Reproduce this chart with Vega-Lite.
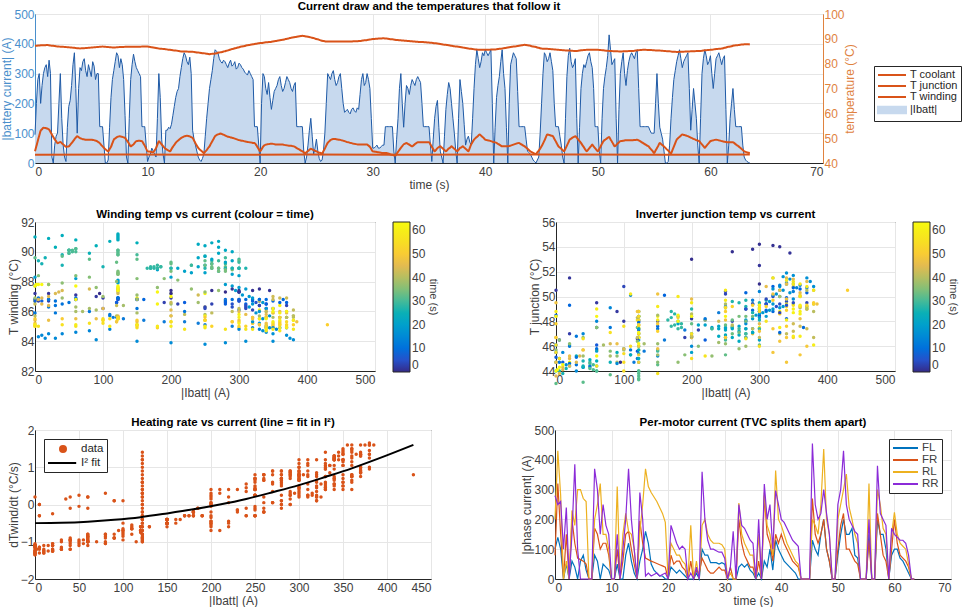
{
"$schema":"https://vega.github.io/schema/vega-lite/v6.json",
"padding":{"left":0,"top":0,"right":0,"bottom":0},
"background":"white",
"config":{
 "font":"Liberation Sans",
 "view":{"stroke":"#262626","strokeWidth":1},
 "axis":{"labelFontSize":12,"labelColor":"#404040","titleFontSize":12,"titleFontWeight":"normal","titleColor":"#404040","gridColor":"#e6e6e6","domainColor":"#262626","ticks":false,"labelPadding":1,"titlePadding":0},
 "axisX":{"labelPadding":3,"titlePadding":2},
 "title":{"fontSize":11.5,"fontWeight":"bold","color":"#000000","offset":-4},
 "legend":{"labelFont":"Liberation Sans","titleFont":"Liberation Sans"}
},
"datasets":{
"main":[
{"t":0,"i":95,"w":87.2,"j":44.7,"d":-0.7},{"t":0.25,"i":280,"w":87.3,"j":49,"d":0.7},{"t":0.5,"i":200,"w":87.4,"j":53,"d":-0.55},{"t":0.75,"i":300,"w":87.4,"j":54.2,"d":0.75},
{"t":1,"i":330,"w":87.5,"j":54,"d":0.4},{"t":1.25,"i":345,"w":87.4,"j":53.5,"d":1.4},{"t":1.5,"i":20,"w":87.2,"j":51.5,"d":-1.2},{"t":1.75,"i":60,"w":87.1,"j":49.5,"d":-0.85},
{"t":2,"i":100,"w":86.9,"j":48,"d":-0.95},{"t":2.25,"i":300,"w":86.8,"j":48.5,"d":0.3},{"t":2.5,"i":60,"w":86.8,"j":47.5,"d":-0.85},{"t":2.75,"i":5,"w":86.7,"j":46.5,"d":-0.3},
{"t":3,"i":190,"w":86.6,"j":46.7,"d":-0.3},{"t":3.25,"i":260,"w":86.5,"j":48,"d":0.8},{"t":3.5,"i":370,"w":86.4,"j":49.5,"d":0.9},{"t":3.75,"i":100,"w":86.2,"j":50.8,"d":-0.75},
{"t":4,"i":320,"w":86.1,"j":50,"d":0.75},{"t":4.25,"i":340,"w":86.2,"j":49.6,"d":1.25},{"t":4.5,"i":310,"w":86.3,"j":49.4,"d":0.25},{"t":4.75,"i":330,"w":86.4,"j":49.4,"d":1},
{"t":5,"i":290,"w":86.5,"j":49.4,"d":0.8},{"t":5.25,"i":325,"w":86.6,"j":49.2,"d":0.55},{"t":5.5,"i":300,"w":86.7,"j":48.8,"d":0.75},{"t":5.75,"i":122,"w":86.8,"j":48,"d":-0.6},
{"t":6,"i":122,"w":86.9,"j":46.7,"d":-0.9},{"t":6.25,"i":0,"w":86.8,"j":45.5,"d":-1.05},{"t":6.5,"i":10,"w":86.7,"j":44.7,"d":-1.3},{"t":6.75,"i":220,"w":86.6,"j":46.5,"d":-0.6},
{"t":7,"i":310,"w":86.5,"j":49.4,"d":0.8},{"t":7.25,"i":370,"w":86.6,"j":50.3,"d":1},{"t":7.5,"i":320,"w":86.7,"j":50.8,"d":1.2},{"t":7.75,"i":330,"w":86.7,"j":50.5,"d":0.4},
{"t":8,"i":160,"w":86.8,"j":50.1,"d":-0.5},{"t":8.25,"i":0,"w":86.8,"j":48.5,"d":-1.1},{"t":8.5,"i":280,"w":86.8,"j":46.7,"d":0.25},{"t":8.75,"i":365,"w":86.8,"j":47.5,"d":1.35},
{"t":9,"i":320,"w":86.8,"j":48.8,"d":0.35},{"t":9.25,"i":300,"w":86.8,"j":49,"d":0.7},{"t":9.5,"i":122,"w":86.9,"j":48.8,"d":-0.3},{"t":9.75,"i":122,"w":86.9,"j":47,"d":-0.8},
{"t":10,"i":5,"w":86.9,"j":44.7,"d":0},{"t":10.25,"i":30,"w":86.7,"j":44.5,"d":-1.2},{"t":10.5,"i":40,"w":86.5,"j":44.3,"d":-0.95},{"t":10.75,"i":20,"w":86.3,"j":46,"d":-1.2},
{"t":11,"i":300,"w":86.1,"j":48.8,"d":0.8},{"t":11.25,"i":80,"w":86,"j":47.5,"d":-0.9},{"t":11.5,"i":0,"w":85.9,"j":46.1,"d":-1.35},{"t":11.75,"i":110,"w":85.7,"j":45.3,"d":-0.6},
{"t":12,"i":115,"w":85.6,"j":44.7,"d":-1},{"t":12.25,"i":160,"w":85.4,"j":46.5,"d":-0.4},{"t":12.5,"i":220,"w":85.3,"j":48.1,"d":-0.45},{"t":12.75,"i":250,"w":85.1,"j":49.2,"d":0.25},
{"t":13,"i":320,"w":84.9,"j":50.1,"d":0.1},{"t":13.25,"i":370,"w":84.9,"j":50.7,"d":1.3},{"t":13.5,"i":340,"w":84.9,"j":51,"d":0.7},{"t":13.75,"i":355,"w":84.8,"j":50.7,"d":1.6},
{"t":14,"i":110,"w":84.8,"j":50.1,"d":-0.55},{"t":14.25,"i":60,"w":84.6,"j":48,"d":-0.1},{"t":14.5,"i":20,"w":84.5,"j":46.1,"d":-1.25},{"t":14.75,"i":5,"w":84.3,"j":45,"d":-1.15},
{"t":15,"i":30,"w":84.2,"j":44,"d":-1.2},{"t":15.25,"i":150,"w":84,"j":45.2,"d":-0.5},{"t":15.5,"i":250,"w":83.8,"j":46.7,"d":-0.3},{"t":15.75,"i":310,"w":84,"j":48.8,"d":0.55},
{"t":16,"i":380,"w":84.1,"j":50.8,"d":1.65},{"t":16.25,"i":370,"w":84.4,"j":51.5,"d":0.95},{"t":16.5,"i":340,"w":84.6,"j":51.9,"d":1.2},{"t":16.75,"i":345,"w":84.9,"j":51.4,"d":1.3},
{"t":17,"i":330,"w":85.2,"j":50.8,"d":0.45},{"t":17.25,"i":335,"w":85.5,"j":50.5,"d":1.05},{"t":17.5,"i":325,"w":85.9,"j":50.2,"d":0.2},{"t":17.75,"i":340,"w":86.2,"j":49.8,"d":1.3},
{"t":18,"i":320,"w":86.5,"j":49.4,"d":0.6},{"t":18.25,"i":330,"w":86.8,"j":49.1,"d":1.4},{"t":18.5,"i":315,"w":87,"j":48.9,"d":0.3},{"t":18.75,"i":300,"w":87.3,"j":48.6,"d":0.65},
{"t":19,"i":310,"w":87.5,"j":48.4,"d":1.05},{"t":19.25,"i":290,"w":87.7,"j":48.2,"d":0.25},{"t":19.5,"i":122,"w":87.9,"j":48.1,"d":0.2},{"t":19.75,"i":122,"w":88.1,"j":46.5,"d":-0.5},
{"t":20,"i":0,"w":88.3,"j":44.7,"d":-1.1},{"t":20.25,"i":300,"w":88.4,"j":46.5,"d":0.7},{"t":20.5,"i":250,"w":88.6,"j":47.4,"d":0.6},{"t":20.75,"i":270,"w":88.7,"j":47.6,"d":0.05},
{"t":21,"i":180,"w":88.8,"j":47.8,"d":-0.2},{"t":21.25,"i":240,"w":89,"j":47.6,"d":0.35},{"t":21.5,"i":260,"w":89.2,"j":47.5,"d":-0.2},{"t":21.75,"i":290,"w":89.4,"j":47.4,"d":0.9},
{"t":22,"i":240,"w":89.6,"j":47.4,"d":-0.1},{"t":22.25,"i":270,"w":89.9,"j":47.2,"d":0.8},{"t":22.5,"i":280,"w":90.1,"j":47,"d":0.1},{"t":22.75,"i":250,"w":90.4,"j":46.9,"d":0.25},
{"t":23,"i":260,"w":90.6,"j":46.7,"d":0.65},{"t":23.25,"i":122,"w":90.8,"j":46,"d":0.9},{"t":23.5,"i":122,"w":91,"j":45.4,"d":0.4},{"t":23.75,"i":122,"w":91.2,"j":44.7,"d":-0.2},
{"t":24,"i":0,"w":91,"j":44,"d":0.2},{"t":24.25,"i":60,"w":90.8,"j":44.8,"d":-1},{"t":24.5,"i":150,"w":90.6,"j":45.7,"d":-0.4},{"t":24.75,"i":30,"w":90.3,"j":45.2,"d":-0.95},
{"t":25,"i":80,"w":89.9,"j":44.7,"d":-0.85},{"t":25.25,"i":15,"w":89.6,"j":44.2,"d":-1.1},{"t":25.5,"i":10,"w":89.2,"j":43.8,"d":-1.3},{"t":25.75,"i":100,"w":89,"j":45.8,"d":-0.5},
{"t":26,"i":300,"w":88.9,"j":48.1,"d":0.45},{"t":26.25,"i":280,"w":88.9,"j":49.2,"d":0.7},{"t":26.5,"i":310,"w":88.9,"j":49.7,"d":1.2},{"t":26.75,"i":260,"w":88.9,"j":49.6,"d":0.05},
{"t":27,"i":290,"w":88.9,"j":49.4,"d":0.75},{"t":27.25,"i":250,"w":88.9,"j":49.1,"d":-0.3},{"t":27.5,"i":170,"w":88.9,"j":48.8,"d":-0.3},{"t":27.75,"i":180,"w":88.9,"j":48.4,"d":-0.2},
{"t":28,"i":165,"w":88.9,"j":48.1,"d":-0.4},{"t":28.25,"i":185,"w":89,"j":47.8,"d":-0.1},{"t":28.5,"i":170,"w":89,"j":47.6,"d":-0.3},{"t":28.75,"i":180,"w":89.1,"j":47.4,"d":-0.2},
{"t":29,"i":280,"w":89.2,"j":47.4,"d":0.8},{"t":29.25,"i":260,"w":89.4,"j":47.5,"d":0.2},{"t":29.5,"i":300,"w":89.5,"j":47.4,"d":1.2},{"t":29.75,"i":250,"w":89.7,"j":46.5,"d":-0.1},
{"t":30,"i":50,"w":89.9,"j":44.7,"d":-1.05},{"t":30.25,"i":55,"w":90,"j":44.5,"d":-0.95},{"t":30.5,"i":50,"w":90.1,"j":44.3,"d":-0.05},{"t":30.75,"i":55,"w":90.1,"j":44.1,"d":-1.05},
{"t":31,"i":60,"w":90.2,"j":44,"d":-0.8},{"t":31.25,"i":122,"w":90.1,"j":44,"d":-0.7},{"t":31.5,"i":122,"w":89.9,"j":43.6,"d":0.1},{"t":31.75,"i":122,"w":89.8,"j":43.3,"d":0.6},
{"t":32,"i":0,"w":89.6,"j":43,"d":-1.25},{"t":32.25,"i":150,"w":89.5,"j":44.5,"d":-0.5},{"t":32.5,"i":300,"w":89.4,"j":46.1,"d":0.65},{"t":32.75,"i":120,"w":89.3,"j":47.5,"d":-0.7},
{"t":33,"i":260,"w":89.2,"j":48.1,"d":0.65},{"t":33.25,"i":230,"w":89.1,"j":47.4,"d":-0.15},{"t":33.5,"i":280,"w":89,"j":46.7,"d":0.7},{"t":33.75,"i":260,"w":88.9,"j":47.6,"d":0.8},
{"t":34,"i":290,"w":88.8,"j":48.4,"d":0.25},{"t":34.25,"i":270,"w":88.7,"j":48.4,"d":0.55},{"t":34.5,"i":122,"w":88.7,"j":48.4,"d":1.4},{"t":34.75,"i":122,"w":88.6,"j":48.4,"d":1},
{"t":35,"i":122,"w":88.5,"j":48.4,"d":0.3},{"t":35.25,"i":5,"w":88.4,"j":46.5,"d":-1.2},{"t":35.5,"i":150,"w":88.2,"j":44.7,"d":-0.6},{"t":35.75,"i":210,"w":88.1,"j":46,"d":-0.7},
{"t":36,"i":40,"w":87.9,"j":46.7,"d":0.2},{"t":36.25,"i":0,"w":87.7,"j":45.7,"d":-1.3},{"t":36.5,"i":180,"w":87.6,"j":44.7,"d":-0.3},{"t":36.75,"i":270,"w":87.4,"j":45.8,"d":0.6},
{"t":37,"i":200,"w":87.2,"j":46.7,"d":-0.2},{"t":37.25,"i":100,"w":87,"j":45.7,"d":-0.65},{"t":37.5,"i":0,"w":86.9,"j":44.7,"d":-1.15},{"t":37.75,"i":280,"w":86.7,"j":46,"d":0.9},
{"t":38,"i":200,"w":86.5,"j":46.7,"d":-0.5},{"t":38.25,"i":60,"w":86.3,"j":45.7,"d":-0.9},{"t":38.5,"i":90,"w":86.1,"j":44.7,"d":-0.9},{"t":38.75,"i":60,"w":86,"j":47.5,"d":-0.85},
{"t":39,"i":250,"w":85.8,"j":49.4,"d":0.25},{"t":39.25,"i":380,"w":85.7,"j":50.5,"d":1.6},{"t":39.5,"i":320,"w":85.6,"j":51.5,"d":0.65},{"t":39.75,"i":370,"w":85.6,"j":50.5,"d":1.4},
{"t":40,"i":380,"w":85.6,"j":49.4,"d":1.6},{"t":40.25,"i":360,"w":85.6,"j":49.1,"d":0.75},{"t":40.5,"i":380,"w":85.7,"j":48.8,"d":1.45},{"t":40.75,"i":0,"w":85.7,"j":48.4,"d":-1.25},
{"t":41,"i":220,"w":85.8,"j":48.1,"d":-0.5},{"t":41.25,"i":290,"w":86,"j":47.4,"d":0.8},{"t":41.5,"i":380,"w":86.1,"j":46.7,"d":1},{"t":41.75,"i":250,"w":86.3,"j":46.7,"d":0.7},
{"t":42,"i":0,"w":86.5,"j":46.7,"d":-1.15},{"t":42.25,"i":330,"w":86.7,"j":47,"d":0.5},{"t":42.5,"i":370,"w":86.9,"j":47.4,"d":1.35},{"t":42.75,"i":350,"w":87,"j":47.8,"d":1.35},
{"t":43,"i":122,"w":87.2,"j":48.1,"d":-0.9},{"t":43.25,"i":122,"w":87.4,"j":47.4,"d":-0.5},{"t":43.5,"i":122,"w":87.6,"j":46.7,"d":0.8},{"t":43.75,"i":40,"w":87.4,"j":45.7,"d":-0.1},
{"t":44,"i":30,"w":87.2,"j":44.7,"d":-1.15},{"t":44.25,"i":10,"w":86.9,"j":44.1,"d":-1.1},{"t":44.5,"i":0,"w":86.7,"j":43.6,"d":-1.35},{"t":44.75,"i":20,"w":86.4,"j":45,"d":-1.1},
{"t":45,"i":200,"w":86.1,"j":46.7,"d":-0.45},{"t":45.25,"i":370,"w":86,"j":49,"d":1.3},{"t":45.5,"i":340,"w":86,"j":51.5,"d":1.3},{"t":45.75,"i":370,"w":85.9,"j":51.2,"d":0.85},
{"t":46,"i":310,"w":85.8,"j":50.8,"d":0.75},{"t":46.25,"i":122,"w":85.7,"j":48.8,"d":-0.4},{"t":46.5,"i":122,"w":85.6,"j":46.7,"d":-0.95},{"t":46.75,"i":60,"w":85.5,"j":45.7,"d":0.2},
{"t":47,"i":0,"w":85.4,"j":44.7,"d":-1.3},{"t":47.25,"i":290,"w":85.3,"j":47,"d":0},{"t":47.5,"i":385,"w":85.3,"j":49.4,"d":1.6},{"t":47.75,"i":320,"w":85.2,"j":50.2,"d":0.5},
{"t":48,"i":350,"w":85.1,"j":50.8,"d":1.5},{"t":48.25,"i":0,"w":85.2,"j":49.5,"d":-1.1},{"t":48.5,"i":250,"w":85.4,"j":48.1,"d":-0.3},{"t":48.75,"i":330,"w":85.5,"j":46.4,"d":0.75},
{"t":49,"i":340,"w":85.6,"j":44.7,"d":1.25},{"t":49.25,"i":370,"w":85.6,"j":46,"d":0.85},{"t":49.5,"i":320,"w":85.6,"j":47.4,"d":0.8},{"t":49.75,"i":122,"w":85.6,"j":46,"d":0.5},
{"t":50,"i":122,"w":85.6,"j":44.7,"d":-0.1},{"t":50.25,"i":0,"w":85.5,"j":46.7,"d":-1.25},{"t":50.5,"i":250,"w":85.4,"j":48.8,"d":0.4},{"t":50.75,"i":320,"w":85.2,"j":49.7,"d":0.25},
{"t":51,"i":430,"w":85.1,"j":50.5,"d":0.8},{"t":51.25,"i":330,"w":85.1,"j":48.6,"d":0.95},{"t":51.5,"i":350,"w":85,"j":46.7,"d":0.5},{"t":51.75,"i":0,"w":85,"j":47.8,"d":-1.1},
{"t":52,"i":300,"w":84.9,"j":48.8,"d":0.8},{"t":52.25,"i":370,"w":85,"j":49,"d":1},{"t":52.5,"i":260,"w":85,"j":49.2,"d":0.8},{"t":52.75,"i":340,"w":85.1,"j":49.2,"d":0.5},
{"t":53,"i":370,"w":85.1,"j":49.2,"d":1.35},{"t":53.25,"i":350,"w":85.2,"j":49.3,"d":1.35},{"t":53.5,"i":380,"w":85.4,"j":49.4,"d":1.25},{"t":53.75,"i":122,"w":85.5,"j":48.8,"d":-0.8},
{"t":54,"i":122,"w":85.6,"j":48.1,"d":-1},{"t":54.25,"i":122,"w":85.6,"j":47.4,"d":0},{"t":54.5,"i":122,"w":85.5,"j":46.7,"d":-0.6},{"t":54.75,"i":100,"w":85.5,"j":45.4,"d":-0.8},
{"t":55,"i":100,"w":85.4,"j":44,"d":-0.7},{"t":55.25,"i":300,"w":85.3,"j":46,"d":0.8},{"t":55.5,"i":120,"w":85.3,"j":48.1,"d":-0.7},{"t":55.75,"i":80,"w":85.2,"j":47.1,"d":-1.05},
{"t":56,"i":0,"w":85.1,"j":46.1,"d":-1.1},{"t":56.25,"i":5,"w":85,"j":45,"d":-0.3},{"t":56.5,"i":150,"w":84.9,"j":43.8,"d":-0.5},{"t":56.75,"i":280,"w":84.8,"j":46.6,"d":0.8},
{"t":57,"i":340,"w":84.7,"j":49.4,"d":0.55},{"t":57.25,"i":380,"w":84.8,"j":50.5,"d":1.35},{"t":57.5,"i":320,"w":84.8,"j":51.5,"d":0.1},{"t":57.75,"i":350,"w":84.9,"j":51.2,"d":1.2},
{"t":58,"i":370,"w":84.9,"j":50.8,"d":0.9},{"t":58.25,"i":110,"w":85,"j":50.2,"d":-0.65},{"t":58.5,"i":250,"w":85,"j":49.7,"d":0.7},{"t":58.75,"i":150,"w":85.1,"j":49.2,"d":-0.4},
{"t":59,"i":0,"w":85.1,"j":48.8,"d":-1.1},{"t":59.25,"i":300,"w":85.2,"j":47.5,"d":0.2},{"t":59.5,"i":380,"w":85.4,"j":46.1,"d":1.35},{"t":59.75,"i":330,"w":85.5,"j":47.5,"d":1.05},
{"t":60,"i":360,"w":85.6,"j":48.8,"d":0.75},{"t":60.25,"i":250,"w":85.7,"j":49.1,"d":0.4},{"t":60.5,"i":350,"w":85.9,"j":49.4,"d":1.2},{"t":60.75,"i":370,"w":86,"j":49.1,"d":0.75},
{"t":61,"i":330,"w":86.1,"j":48.8,"d":0.75},{"t":61.25,"i":360,"w":86.4,"j":48.6,"d":0.4},{"t":61.5,"i":0,"w":86.7,"j":48.4,"d":-1.2},{"t":61.75,"i":150,"w":86.9,"j":48.4,"d":-0.4},
{"t":62,"i":250,"w":87.2,"j":48.4,"d":0.4},{"t":62.25,"i":122,"w":87.4,"j":47.5,"d":-0.95},{"t":62.5,"i":122,"w":87.5,"j":46.7,"d":-0.9},{"t":62.75,"i":122,"w":87.7,"j":45.7,"d":-0.85},
{"t":63,"i":20,"w":87.8,"j":44.7,"d":-1.1},{"t":63.25,"i":5,"w":87.8,"j":44.3,"d":0},{"t":63.5,"i":0,"w":87.7,"j":44,"d":-1.3},
{"t":0.125,"i":200,"w":87.2,"j":46.8,"d":-0.3},{"t":0.375,"i":300,"w":87.3,"j":51,"d":1.1},{"t":0.625,"i":260,"w":87.4,"j":53.6,"d":-0.1},{"t":0.875,"i":320,"w":87.4,"j":54.1,"d":0.85},
{"t":1.125,"i":290,"w":87.5,"j":53.8,"d":0.85},{"t":1.375,"i":300,"w":87.3,"j":52.5,"d":0.45},{"t":1.625,"i":0,"w":87.2,"j":50.5,"d":-1.15},{"t":1.875,"i":90,"w":87,"j":48.8,"d":-0.9},
{"t":2.125,"i":200,"w":86.9,"j":48.2,"d":0},{"t":2.375,"i":150,"w":86.8,"j":48,"d":-0.5},{"t":2.625,"i":20,"w":86.7,"j":47,"d":-1.1},{"t":2.875,"i":120,"w":86.6,"j":46.6,"d":-0.7},
{"t":3.125,"i":210,"w":86.5,"j":47.3,"d":0.3},{"t":3.375,"i":330,"w":86.4,"j":48.7,"d":0.55},{"t":3.625,"i":250,"w":86.3,"j":50.2,"d":0.45},{"t":3.875,"i":250,"w":86.2,"j":50.4,"d":-0.3},
{"t":4.125,"i":310,"w":86.2,"j":49.8,"d":0.9},{"t":4.375,"i":350,"w":86.2,"j":49.5,"d":0.8},{"t":4.625,"i":290,"w":86.3,"j":49.4,"d":0.9},{"t":4.875,"i":310,"w":86.4,"j":49.4,"d":0.2},
{"t":5.125,"i":340,"w":86.5,"j":49.3,"d":0.95},{"t":5.375,"i":280,"w":86.6,"j":49,"d":0.65},{"t":5.625,"i":300,"w":86.7,"j":48.4,"d":0.25},{"t":5.875,"i":122,"w":86.8,"j":47.3,"d":-0.4},
{"t":6.125,"i":60,"w":86.8,"j":46.1,"d":-1.1},{"t":6.375,"i":0,"w":86.7,"j":45.1,"d":-1.1},{"t":6.625,"i":120,"w":86.6,"j":45.6,"d":-0.7},{"t":6.875,"i":280,"w":86.5,"j":48,"d":0.5},
{"t":7.125,"i":340,"w":86.5,"j":49.9,"d":1.3},{"t":7.375,"i":360,"w":86.6,"j":50.6,"d":0.75},{"t":7.625,"i":350,"w":86.7,"j":50.7,"d":1.05},{"t":7.875,"i":280,"w":86.7,"j":50.3,"d":-0.1},
{"t":8.125,"i":20,"w":86.8,"j":49.3,"d":-1.25},{"t":8.375,"i":150,"w":86.8,"j":47.6,"d":-0.5},{"t":8.625,"i":330,"w":86.8,"j":47.1,"d":1.1},{"t":8.875,"i":340,"w":86.8,"j":48.2,"d":0.7},
{"t":9.125,"i":310,"w":86.8,"j":48.9,"d":1.1},{"t":9.375,"i":290,"w":86.8,"j":48.9,"d":0},{"t":9.625,"i":122,"w":86.9,"j":47.9,"d":0.3},{"t":9.875,"i":60,"w":86.9,"j":45.8,"d":-0.95},
{"t":10.125,"i":20,"w":86.8,"j":44.6,"d":-0.25},{"t":10.375,"i":50,"w":86.6,"j":44.4,"d":-1.1},{"t":10.625,"i":30,"w":86.4,"j":45.1,"d":-1},{"t":10.875,"i":150,"w":86.2,"j":47.4,"d":-0.5},
{"t":11.125,"i":220,"w":86,"j":48.2,"d":0.05},{"t":11.375,"i":30,"w":85.9,"j":46.8,"d":-1.2},{"t":11.625,"i":110,"w":85.8,"j":45.7,"d":-0.8},{"t":11.875,"i":120,"w":85.6,"j":45,"d":-0.75},
{"t":12.125,"i":130,"w":85.5,"j":45.6,"d":-0.6},{"t":12.375,"i":190,"w":85.3,"j":47.3,"d":-0.3},{"t":12.625,"i":240,"w":85.2,"j":48.7,"d":0.45},{"t":12.875,"i":290,"w":85,"j":49.7,"d":0.15},
{"t":13.125,"i":350,"w":84.9,"j":50.4,"d":1.2},{"t":13.375,"i":360,"w":84.9,"j":50.9,"d":1.5},{"t":13.625,"i":330,"w":84.8,"j":50.9,"d":0.45},{"t":13.875,"i":300,"w":84.8,"j":50.4,"d":0.65},
{"t":14.125,"i":80,"w":84.7,"j":49.1,"d":0.3},{"t":14.375,"i":40,"w":84.5,"j":47,"d":-1.2},{"t":14.625,"i":10,"w":84.4,"j":45.5,"d":-1.2},{"t":14.875,"i":15,"w":84.2,"j":44.5,"d":-1.25},
{"t":15.125,"i":90,"w":84.1,"j":44.6,"d":-0.8},{"t":15.375,"i":200,"w":83.9,"j":46,"d":-0.7},{"t":15.625,"i":280,"w":83.9,"j":47.8,"d":0.6},{"t":15.875,"i":350,"w":84,"j":49.8,"d":0.7},
{"t":16.125,"i":375,"w":84.2,"j":51.2,"d":1.6},{"t":16.375,"i":350,"w":84.5,"j":51.7,"d":0.6},{"t":16.625,"i":335,"w":84.7,"j":51.6,"d":0.85},{"t":16.875,"i":340,"w":85,"j":51.1,"d":1.25},
{"t":17.125,"i":320,"w":85.3,"j":50.6,"d":0.45},{"t":17.375,"i":345,"w":85.7,"j":50.3,"d":1.2},{"t":17.625,"i":330,"w":86,"j":50,"d":1.2},{"t":17.875,"i":315,"w":86.3,"j":49.6,"d":0.25},
{"t":18.125,"i":335,"w":86.6,"j":49.2,"d":1.05},{"t":18.375,"i":320,"w":86.9,"j":49,"d":0.2},{"t":18.625,"i":305,"w":87.1,"j":48.7,"d":0.8},{"t":18.875,"i":295,"w":87.4,"j":48.5,"d":0.3},
{"t":19.125,"i":300,"w":87.6,"j":48.3,"d":1},{"t":19.375,"i":280,"w":87.8,"j":48.1,"d":0},{"t":19.625,"i":122,"w":88,"j":47.4,"d":-0.2},{"t":19.875,"i":60,"w":88.2,"j":45.6,"d":-1},
{"t":20.125,"i":200,"w":88.3,"j":45.5,"d":-0.05},{"t":20.375,"i":290,"w":88.5,"j":47.1,"d":0.85},{"t":20.625,"i":230,"w":88.6,"j":47.5,"d":-0.15},{"t":20.875,"i":220,"w":88.7,"j":47.7,"d":0.2},
{"t":21.125,"i":210,"w":88.9,"j":47.7,"d":0.4},{"t":21.375,"i":250,"w":89.1,"j":47.5,"d":-0.15},{"t":21.625,"i":280,"w":89.3,"j":47.4,"d":0.55},{"t":21.875,"i":260,"w":89.5,"j":47.4,"d":-0.2},
{"t":22.125,"i":250,"w":89.7,"j":47.3,"d":0.5},{"t":22.375,"i":290,"w":90,"j":47.1,"d":0.3},{"t":22.625,"i":270,"w":90.3,"j":46.9,"d":0.9},{"t":22.875,"i":240,"w":90.5,"j":46.8,"d":-0.3},
{"t":23.125,"i":270,"w":90.7,"j":46.4,"d":0.35},{"t":23.375,"i":122,"w":90.9,"j":45.7,"d":1.2},{"t":23.625,"i":122,"w":91.1,"j":45,"d":0},{"t":23.875,"i":40,"w":91.1,"j":44.3,"d":-0.9},
{"t":24.125,"i":20,"w":90.9,"j":44.4,"d":-1.25},{"t":24.375,"i":110,"w":90.7,"j":45.3,"d":-0.65},{"t":24.625,"i":90,"w":90.4,"j":45.5,"d":0.1},{"t":24.875,"i":50,"w":90.1,"j":44.9,"d":-1},
{"t":25.125,"i":40,"w":89.8,"j":44.4,"d":-0.95},{"t":25.375,"i":5,"w":89.4,"j":44,"d":-1.3},{"t":25.625,"i":40,"w":89.1,"j":44.8,"d":-1},{"t":25.875,"i":200,"w":88.9,"j":47,"d":0.25},
{"t":26.125,"i":290,"w":88.9,"j":48.7,"d":0.35},{"t":26.375,"i":300,"w":88.9,"j":49.5,"d":0.9},{"t":26.625,"i":280,"w":88.9,"j":49.7,"d":0.9},{"t":26.875,"i":270,"w":88.9,"j":49.5,"d":0.05},
{"t":27.125,"i":300,"w":88.9,"j":49.3,"d":0.85},{"t":27.375,"i":200,"w":88.9,"j":49,"d":-0.6},{"t":27.625,"i":175,"w":88.9,"j":48.6,"d":-0.3},{"t":27.875,"i":170,"w":88.9,"j":48.3,"d":-0.3},
{"t":28.125,"i":180,"w":88.9,"j":48,"d":-0.2},{"t":28.375,"i":175,"w":89,"j":47.7,"d":-0.3},{"t":28.625,"i":185,"w":89,"j":47.5,"d":-0.1},{"t":28.875,"i":230,"w":89.1,"j":47.4,"d":0.4},
{"t":29.125,"i":300,"w":89.3,"j":47.4,"d":0.5},{"t":29.375,"i":270,"w":89.4,"j":47.4,"d":0.9},{"t":29.625,"i":280,"w":89.6,"j":47,"d":0.1},{"t":29.875,"i":150,"w":89.8,"j":45.6,"d":-0.5},
{"t":30.125,"i":50,"w":89.9,"j":44.6,"d":0.25},{"t":30.375,"i":60,"w":90,"j":44.4,"d":-1},{"t":30.625,"i":50,"w":90.1,"j":44.2,"d":-0.95},{"t":30.875,"i":60,"w":90.2,"j":44,"d":-0.95},
{"t":31.125,"i":122,"w":90.1,"j":44,"d":-0.4},{"t":31.375,"i":122,"w":90,"j":43.8,"d":0.3},{"t":31.625,"i":122,"w":89.8,"j":43.4,"d":-0.8},{"t":31.875,"i":40,"w":89.7,"j":43.1,"d":-1.1},
{"t":32.125,"i":80,"w":89.5,"j":43.7,"d":-1},{"t":32.375,"i":250,"w":89.4,"j":45.3,"d":0.25},{"t":32.625,"i":200,"w":89.3,"j":46.8,"d":0.15},{"t":32.875,"i":200,"w":89.2,"j":47.8,"d":-0.35},
{"t":33.125,"i":250,"w":89.1,"j":47.7,"d":0.4},{"t":33.375,"i":260,"w":89,"j":47,"d":0.7},{"t":33.625,"i":270,"w":88.9,"j":47.1,"d":0.05},{"t":33.875,"i":280,"w":88.8,"j":48,"d":0.65},
{"t":34.125,"i":280,"w":88.7,"j":48.4,"d":0},{"t":34.375,"i":200,"w":88.7,"j":48.4,"d":0.3},{"t":34.625,"i":122,"w":88.6,"j":48.4,"d":1.2},{"t":34.875,"i":122,"w":88.5,"j":48.4,"d":0.6},
{"t":35.125,"i":60,"w":88.4,"j":47.5,"d":-0.8},{"t":35.375,"i":80,"w":88.3,"j":45.6,"d":-1.05},{"t":35.625,"i":190,"w":88.2,"j":45.3,"d":-0.3},{"t":35.875,"i":120,"w":88,"j":46.4,"d":-0.7},
{"t":36.125,"i":20,"w":87.8,"j":46.2,"d":-1.05},{"t":36.375,"i":90,"w":87.6,"j":45.2,"d":0.1},{"t":36.625,"i":230,"w":87.5,"j":45.2,"d":-0.2},{"t":36.875,"i":250,"w":87.3,"j":46.2,"d":0.7},
{"t":37.125,"i":150,"w":87.1,"j":46.2,"d":-0.5},{"t":37.375,"i":40,"w":86.9,"j":45.2,"d":-1.05},{"t":37.625,"i":150,"w":86.8,"j":45.3,"d":-0.4},{"t":37.875,"i":240,"w":86.6,"j":46.3,"d":-0.3},
{"t":38.125,"i":130,"w":86.4,"j":46.2,"d":-0.6},{"t":38.375,"i":80,"w":86.2,"j":45.2,"d":-0.8},{"t":38.625,"i":70,"w":86,"j":46.1,"d":-1},{"t":38.875,"i":150,"w":85.9,"j":48.5,"d":-0.5},
{"t":39.125,"i":330,"w":85.7,"j":50,"d":0.95},{"t":39.375,"i":350,"w":85.6,"j":51,"d":1.45},{"t":39.625,"i":340,"w":85.6,"j":51,"d":0.75},{"t":39.875,"i":360,"w":85.6,"j":50,"d":1.4},
{"t":40.125,"i":370,"w":85.6,"j":49.2,"d":1.6},{"t":40.375,"i":370,"w":85.6,"j":49,"d":0.85},{"t":40.625,"i":200,"w":85.7,"j":48.6,"d":0.05},{"t":40.875,"i":120,"w":85.7,"j":48.3,"d":-0.6},
{"t":41.125,"i":260,"w":85.9,"j":47.7,"d":-0.2},{"t":41.375,"i":340,"w":86,"j":47,"d":1.2},{"t":41.625,"i":300,"w":86.2,"j":46.7,"d":0.4},{"t":41.875,"i":120,"w":86.4,"j":46.7,"d":-0.6},
{"t":42.125,"i":200,"w":86.6,"j":46.8,"d":0.4},{"t":42.375,"i":350,"w":86.8,"j":47.2,"d":0.6},{"t":42.625,"i":360,"w":86.9,"j":47.6,"d":1.15},{"t":42.875,"i":240,"w":87.1,"j":48,"d":0.55},
{"t":43.125,"i":122,"w":87.3,"j":47.7,"d":0.4},{"t":43.375,"i":122,"w":87.5,"j":47,"d":-1},{"t":43.625,"i":80,"w":87.5,"j":46.2,"d":-0.8},{"t":43.875,"i":35,"w":87.3,"j":45.2,"d":0.15},
{"t":44.125,"i":20,"w":87,"j":44.4,"d":-1.25},{"t":44.375,"i":5,"w":86.8,"j":43.8,"d":-1.15},{"t":44.625,"i":10,"w":86.5,"j":44.3,"d":-1.25},{"t":44.875,"i":100,"w":86.2,"j":45.8,"d":-0.7},
{"t":45.125,"i":300,"w":86,"j":47.8,"d":0.35},{"t":45.375,"i":360,"w":86,"j":50.3,"d":1.3},{"t":45.625,"i":350,"w":85.9,"j":51.4,"d":1.4},{"t":45.875,"i":340,"w":85.8,"j":51,"d":0.55},
{"t":46.125,"i":200,"w":85.7,"j":49.8,"d":0.05},{"t":46.375,"i":122,"w":85.6,"j":47.7,"d":0.6},{"t":46.625,"i":90,"w":85.5,"j":46.2,"d":-0.9},{"t":46.875,"i":20,"w":85.4,"j":45.2,"d":-1.05},
{"t":47.125,"i":150,"w":85.3,"j":45.8,"d":-0.4},{"t":47.375,"i":360,"w":85.3,"j":48.2,"d":0.6},{"t":47.625,"i":340,"w":85.2,"j":49.8,"d":1.2},{"t":47.875,"i":330,"w":85.1,"j":50.5,"d":0.6},
{"t":48.125,"i":150,"w":85.1,"j":50.2,"d":-0.4},{"t":48.375,"i":120,"w":85.3,"j":48.8,"d":-0.6},{"t":48.625,"i":300,"w":85.4,"j":47.2,"d":1},{"t":48.875,"i":320,"w":85.5,"j":45.5,"d":0.2},
{"t":49.125,"i":360,"w":85.6,"j":45.3,"d":1.05},{"t":49.375,"i":340,"w":85.6,"j":46.7,"d":1.25},{"t":49.625,"i":250,"w":85.6,"j":46.7,"d":-0.05},{"t":49.875,"i":122,"w":85.6,"j":45.3,"d":1.1},
{"t":50.125,"i":40,"w":85.5,"j":45.7,"d":-1.2},{"t":50.375,"i":150,"w":85.4,"j":47.8,"d":-0.4},{"t":50.625,"i":290,"w":85.3,"j":49.3,"d":0.7},{"t":50.875,"i":360,"w":85.2,"j":50.1,"d":1.5},
{"t":51.125,"i":380,"w":85.1,"j":49.5,"d":0.95},{"t":51.375,"i":340,"w":85,"j":47.6,"d":1.05},{"t":51.625,"i":150,"w":85,"j":47.2,"d":-0.4},{"t":51.875,"i":180,"w":84.9,"j":48.3,"d":-0.3},
{"t":52.125,"i":340,"w":84.9,"j":48.9,"d":0.4},{"t":52.375,"i":300,"w":85,"j":49.1,"d":0.8},{"t":52.625,"i":310,"w":85,"j":49.2,"d":0.4},{"t":52.875,"i":360,"w":85.1,"j":49.2,"d":1.6},
{"t":53.125,"i":360,"w":85.1,"j":49.2,"d":0.8},{"t":53.375,"i":370,"w":85.3,"j":49.3,"d":1.35},{"t":53.625,"i":250,"w":85.4,"j":49.1,"d":0.65},{"t":53.875,"i":122,"w":85.5,"j":48.4,"d":-0.3},
{"t":54.125,"i":122,"w":85.6,"j":47.7,"d":1.3},{"t":54.375,"i":122,"w":85.5,"j":47,"d":-0.7},{"t":54.625,"i":110,"w":85.5,"j":46,"d":-0.65},{"t":54.875,"i":100,"w":85.4,"j":44.7,"d":0.1},
{"t":55.125,"i":200,"w":85.3,"j":45,"d":-0.45},{"t":55.375,"i":200,"w":85.3,"j":47,"d":0},{"t":55.625,"i":100,"w":85.2,"j":47.6,"d":-0.85},{"t":55.875,"i":40,"w":85.1,"j":46.6,"d":-0.95},
{"t":56.125,"i":0,"w":85,"j":45.5,"d":-1.3},{"t":56.375,"i":60,"w":85,"j":44.4,"d":-1},{"t":56.625,"i":220,"w":84.8,"j":45.2,"d":0.4},{"t":56.875,"i":310,"w":84.8,"j":48,"d":0.25},
{"t":57.125,"i":360,"w":84.7,"j":50,"d":1.25},{"t":57.375,"i":350,"w":84.8,"j":51,"d":0.5},{"t":57.625,"i":340,"w":84.8,"j":51.3,"d":1.2},{"t":57.875,"i":360,"w":84.9,"j":51,"d":0.8},
{"t":58.125,"i":250,"w":84.9,"j":50.5,"d":0.8},{"t":58.375,"i":180,"w":85,"j":50,"d":-0.2},{"t":58.625,"i":200,"w":85,"j":49.5,"d":-0.5},{"t":58.875,"i":60,"w":85.1,"j":49,"d":0.2},
{"t":59.125,"i":150,"w":85.1,"j":48.1,"d":-0.5},{"t":59.375,"i":350,"w":85.3,"j":46.8,"d":1.05},{"t":59.625,"i":360,"w":85.4,"j":46.8,"d":1.45},{"t":59.875,"i":340,"w":85.5,"j":48.1,"d":0.65},
{"t":60.125,"i":300,"w":85.6,"j":49,"d":0.8},{"t":60.375,"i":300,"w":85.8,"j":49.3,"d":0.9},{"t":60.625,"i":360,"w":85.9,"j":49.3,"d":0.65},{"t":60.875,"i":350,"w":86,"j":49,"d":1.15},
{"t":61.125,"i":350,"w":86.2,"j":48.7,"d":0.4},{"t":61.375,"i":180,"w":86.5,"j":48.5,"d":-0.3},{"t":61.625,"i":60,"w":86.8,"j":48.4,"d":-1},{"t":61.875,"i":200,"w":87,"j":48.4,"d":0.2},
{"t":62.125,"i":180,"w":87.3,"j":48,"d":-0.2},{"t":62.375,"i":122,"w":87.4,"j":47.1,"d":0.2},{"t":62.625,"i":122,"w":87.6,"j":46.2,"d":0.7},{"t":62.875,"i":60,"w":87.7,"j":45.2,"d":-0.9},
{"t":63.125,"i":10,"w":87.8,"j":44.5,"d":-1.25},{"t":63.375,"i":2,"w":87.8,"j":44.1,"d":-1.2}
],
"cool":[{"t":0,"c":43.3},{"t":8,"c":43.4},{"t":16,"c":43.3},{"t":24,"c":43.4},{"t":32,"c":43.3},{"t":40,"c":43.4},{"t":48,"c":43.4},{"t":56,"c":43.3},{"t":63.5,"c":43.4}],
"fit":[{"i":0,"d":-0.5},{"i":30,"d":-0.49},{"i":60,"d":-0.46},{"i":90,"d":-0.41},{"i":120,"d":-0.34},{"i":150,"d":-0.24},{"i":180,"d":-0.13},{"i":210,"d":0},{"i":240,"d":0.15},{"i":270,"d":0.33},{"i":300,"d":0.52},{"i":330,"d":0.74},{"i":360,"d":0.97},{"i":390,"d":1.23},{"i":430,"d":1.6}],
"motor":[
{"t":0,"FL":100,"FR":80,"RL":200,"RR":280},{"t":0.5,"FL":140,"FR":320,"RL":430,"RR":250},{"t":1,"FL":100,"FR":150,"RL":280,"RR":260},{"t":1.5,"FL":0,"FR":0,"RL":0,"RR":100},
{"t":2,"FL":50,"FR":150,"RL":60,"RR":240},{"t":2.5,"FL":0,"FR":0,"RL":0,"RR":0},{"t":3,"FL":60,"FR":200,"RL":230,"RR":150},{"t":3.5,"FL":40,"FR":120,"RL":180,"RR":385},
{"t":4,"FL":0,"FR":70,"RL":300,"RR":100},{"t":4.5,"FL":60,"FR":65,"RL":300,"RR":0},{"t":5,"FL":80,"FR":60,"RL":270,"RR":0},{"t":5.5,"FL":30,"FR":50,"RL":260,"RR":0},
{"t":6,"FL":0,"FR":0,"RL":0,"RR":0},{"t":6.5,"FL":0,"FR":0,"RL":0,"RR":0},{"t":7,"FL":80,"FR":170,"RL":200,"RR":370},{"t":7.5,"FL":60,"FR":150,"RL":250,"RR":300},
{"t":8,"FL":0,"FR":100,"RL":320,"RR":150},{"t":8.5,"FL":50,"FR":120,"RL":150,"RR":250},{"t":9,"FL":40,"FR":120,"RL":150,"RR":180},{"t":9.5,"FL":30,"FR":80,"RL":100,"RR":150},
{"t":10,"FL":0,"FR":0,"RL":0,"RR":0},{"t":10.5,"FL":0,"FR":0,"RL":0,"RR":0},{"t":11,"FL":50,"FR":100,"RL":310,"RR":150},{"t":11.5,"FL":0,"FR":0,"RL":0,"RR":0},
{"t":12,"FL":0,"FR":60,"RL":150,"RR":100},{"t":12.5,"FL":80,"FR":150,"RL":220,"RR":200},{"t":13,"FL":120,"FR":160,"RL":160,"RR":370},{"t":13.5,"FL":60,"FR":100,"RL":150,"RR":200},
{"t":14,"FL":20,"FR":50,"RL":100,"RR":100},{"t":14.5,"FL":0,"FR":0,"RL":0,"RR":0},{"t":15,"FL":60,"FR":195,"RL":160,"RR":290},{"t":15.5,"FL":100,"FR":120,"RL":250,"RR":200},
{"t":16,"FL":160,"FR":70,"RL":370,"RR":10},{"t":16.5,"FL":120,"FR":65,"RL":310,"RR":20},{"t":17,"FL":50,"FR":60,"RL":290,"RR":10},{"t":17.5,"FL":30,"FR":56,"RL":275,"RR":15},
{"t":18,"FL":20,"FR":52,"RL":260,"RR":20},{"t":18.5,"FL":10,"FR":48,"RL":240,"RR":10},{"t":19,"FL":10,"FR":44,"RL":220,"RR":15},{"t":19.5,"FL":0,"FR":40,"RL":190,"RR":20},
{"t":20,"FL":0,"FR":0,"RL":0,"RR":0},{"t":20.5,"FL":40,"FR":80,"RL":120,"RR":180},{"t":21,"FL":30,"FR":50,"RL":100,"RR":150},{"t":21.5,"FL":20,"FR":60,"RL":80,"RR":120},
{"t":22,"FL":30,"FR":60,"RL":80,"RR":100},{"t":22.5,"FL":20,"FR":40,"RL":60,"RR":110},{"t":23,"FL":10,"FR":30,"RL":50,"RR":100},{"t":23.5,"FL":0,"FR":0,"RL":0,"RR":0},
{"t":24,"FL":0,"FR":60,"RL":180,"RR":20},{"t":24.5,"FL":0,"FR":0,"RL":0,"RR":0},{"t":25,"FL":20,"FR":30,"RL":60,"RR":40},{"t":25.5,"FL":0,"FR":20,"RL":0,"RR":0},
{"t":26,"FL":100,"FR":70,"RL":180,"RR":360},{"t":26.5,"FL":80,"FR":50,"RL":200,"RR":200},{"t":27,"FL":80,"FR":30,"RL":150,"RR":130},{"t":27.5,"FL":55,"FR":20,"RL":130,"RR":100},
{"t":28,"FL":55,"FR":20,"RL":120,"RR":100},{"t":28.5,"FL":55,"FR":30,"RL":120,"RR":95},{"t":29,"FL":50,"FR":40,"RL":120,"RR":90},{"t":29.5,"FL":55,"FR":30,"RL":115,"RR":90},
{"t":30,"FL":50,"FR":30,"RL":100,"RR":70},{"t":30.5,"FL":0,"FR":0,"RL":0,"RR":0},{"t":31,"FL":0,"FR":40,"RL":20,"RR":40},{"t":31.5,"FL":0,"FR":0,"RL":0,"RR":160},
{"t":32,"FL":0,"FR":0,"RL":0,"RR":0},{"t":32.5,"FL":40,"FR":200,"RL":255,"RR":250},{"t":33,"FL":50,"FR":120,"RL":150,"RR":180},{"t":33.5,"FL":40,"FR":80,"RL":120,"RR":170},
{"t":34,"FL":50,"FR":60,"RL":100,"RR":150},{"t":34.5,"FL":30,"FR":40,"RL":80,"RR":130},{"t":35,"FL":20,"FR":40,"RL":80,"RR":120},{"t":35.5,"FL":0,"FR":0,"RL":0,"RR":0},
{"t":36,"FL":20,"FR":60,"RL":150,"RR":200},{"t":36.5,"FL":0,"FR":0,"RL":0,"RR":0},{"t":37,"FL":60,"FR":280,"RL":290,"RR":319},{"t":37.5,"FL":40,"FR":150,"RL":180,"RR":200},
{"t":38,"FL":100,"FR":120,"RL":150,"RR":250},{"t":38.5,"FL":30,"FR":60,"RL":80,"RR":100},{"t":39,"FL":130,"FR":150,"RL":364,"RR":297},{"t":39.5,"FL":100,"FR":120,"RL":200,"RR":250},
{"t":40,"FL":80,"FR":150,"RL":180,"RR":200},{"t":40.5,"FL":60,"FR":120,"RL":150,"RR":190},{"t":41,"FL":50,"FR":100,"RL":120,"RR":170},{"t":41.5,"FL":40,"FR":80,"RL":100,"RR":150},
{"t":42,"FL":30,"FR":60,"RL":80,"RR":130},{"t":42.5,"FL":20,"FR":50,"RL":60,"RR":120},{"t":43,"FL":0,"FR":40,"RL":50,"RR":110},{"t":43.5,"FL":0,"FR":0,"RL":0,"RR":0},
{"t":44,"FL":0,"FR":0,"RL":0,"RR":0},{"t":44.5,"FL":0,"FR":0,"RL":0,"RR":0},{"t":45,"FL":0,"FR":0,"RL":0,"RR":0},{"t":45.5,"FL":130,"FR":270,"RL":200,"RR":455},
{"t":46,"FL":100,"FR":150,"RL":180,"RR":250},{"t":46.5,"FL":80,"FR":120,"RL":150,"RR":200},{"t":47,"FL":150,"FR":150,"RL":250,"RR":220},{"t":47.5,"FL":200,"FR":200,"RL":436,"RR":300},
{"t":48,"FL":100,"FR":100,"RL":200,"RR":220},{"t":48.5,"FL":60,"FR":60,"RL":150,"RR":150},{"t":49,"FL":0,"FR":0,"RL":0,"RR":0},{"t":49.5,"FL":0,"FR":0,"RL":0,"RR":0},
{"t":50,"FL":80,"FR":100,"RL":200,"RR":250},{"t":50.5,"FL":150,"FR":180,"RL":250,"RR":300},{"t":51,"FL":200,"FR":220,"RL":300,"RR":430},{"t":51.5,"FL":150,"FR":100,"RL":352,"RR":250},
{"t":52,"FL":150,"FR":100,"RL":240,"RR":200},{"t":52.5,"FL":170,"FR":80,"RL":200,"RR":180},{"t":53,"FL":80,"FR":60,"RL":150,"RR":160},{"t":53.5,"FL":70,"FR":50,"RL":120,"RR":150},
{"t":54,"FL":0,"FR":0,"RL":0,"RR":0},{"t":54.5,"FL":0,"FR":0,"RL":0,"RR":0},{"t":55,"FL":0,"FR":0,"RL":0,"RR":0},{"t":55.5,"FL":150,"FR":130,"RL":320,"RR":200},
{"t":56,"FL":0,"FR":0,"RL":0,"RR":0},{"t":56.5,"FL":0,"FR":0,"RL":0,"RR":0},{"t":57,"FL":200,"FR":220,"RL":300,"RR":380},{"t":57.5,"FL":150,"FR":150,"RL":250,"RR":220},
{"t":58,"FL":150,"FR":80,"RL":170,"RR":200},{"t":58.5,"FL":100,"FR":60,"RL":150,"RR":180},{"t":59,"FL":0,"FR":0,"RL":0,"RR":0},{"t":59.5,"FL":80,"FR":100,"RL":150,"RR":170},
{"t":60,"FL":100,"FR":200,"RL":224,"RR":150},{"t":60.5,"FL":100,"FR":120,"RL":150,"RR":140},{"t":61,"FL":70,"FR":80,"RL":120,"RR":130},{"t":61.5,"FL":60,"FR":70,"RL":110,"RR":130},
{"t":62,"FL":40,"FR":60,"RL":100,"RR":120},{"t":62.5,"FL":20,"FR":40,"RL":50,"RR":80},{"t":63,"FL":0,"FR":0,"RL":0,"RR":0},{"t":63.5,"FL":0,"FR":0,"RL":0,"RR":0}
]
},
"spacing":17,
"resolve":{"scale":{"color":"independent"},"legend":{"color":"independent"}},
"vconcat":[
{
 "width":788,"height":149,
 "title":"Current draw and the temperatures that follow it",
 "resolve":{"scale":{"y":"independent"}},
 "layer":[
  {"data":{"name":"main"},
   "layer":[
    {"mark":{"type":"area","opacity":1},
     "encoding":{
      "x":{"field":"t","type":"quantitative","scale":{"domain":[0,70],"nice":false},"axis":{"values":[0,10,20,30,40,50,60,70],"title":"time (s)","grid":true}},
      "y":{"field":"i","type":"quantitative","scale":{"domain":[0,500],"nice":false},"axis":{"orient":"left","title":"|battery current| (A)","values":[0,100,200,300,400,500],"labelColor":"#4a8fcc","titleColor":"#4a8fcc","domainColor":"#4a8fcc","grid":true,"labelOverlap":false}},
      "color":{"datum":"|Ibatt|","type":"nominal",
       "scale":{"domain":["T coolant","T junction","T winding","|Ibatt|"],"range":["#D95319","#D95319","#D95319","#c7d9ee"]},
       "legend":{"orient":"none","legendX":839,"legendY":52,"title":null,"strokeColor":"#262626","fillColor":"white","padding":3,"labelFontSize":11,"labelColor":"#262626","symbolSize":100,"symbolStrokeWidth":2,"rowPadding":0,"labelOffset":21,
        "encoding":{"symbols":{
          "shape":{"value":{"expr":"datum.value === '|Ibatt|' ? 'M-1,-0.65H4.6V0.65H-1Z' : 'M-1,0H4.6'"}},
          "fill":{"value":{"expr":"datum.value === '|Ibatt|' ? '#c7d9ee' : 'transparent'"}},
          "stroke":{"value":{"expr":"datum.value === '|Ibatt|' ? 'transparent' : '#D95319'"}},
          "strokeWidth":{"value":2},
          "opacity":{"value":1}}}}}
     }},
    {"mark":{"type":"line","color":"#1f5aa6","strokeWidth":1},
     "encoding":{
      "x":{"field":"t","type":"quantitative","axis":{"values":[0,10,20,30,40,50,60,70],"title":"time (s)","grid":true}},
      "y":{"field":"i","type":"quantitative","axis":{"orient":"left","title":"|battery current| (A)","values":[0,100,200,300,400,500],"labelColor":"#4a8fcc","titleColor":"#4a8fcc","domainColor":"#4a8fcc","grid":true,"labelOverlap":false}}
     }}
   ]},
  {"layer":[
    {"data":{"name":"cool"},"mark":{"type":"line","strokeWidth":2},
     "encoding":{
      "x":{"field":"t","type":"quantitative"},
      "y":{"field":"c","type":"quantitative","scale":{"domain":[40,100],"nice":false},"axis":{"orient":"right","title":"temperature  (°C)","titleAngle":270,"titleBaseline":"top","values":[40,50,60,70,80,90,100],"labelColor":"#e0823f","titleColor":"#e0823f","domainColor":"#e0823f","grid":false}},
      "color":{"datum":"T coolant","type":"nominal"}}},
    {"data":{"name":"main"},"mark":{"type":"line","strokeWidth":2,"interpolate":"monotone"},
     "encoding":{
      "x":{"field":"t","type":"quantitative"},
      "y":{"field":"j","type":"quantitative","axis":{"orient":"right","title":"temperature  (°C)","titleAngle":270,"titleBaseline":"top","values":[40,50,60,70,80,90,100],"labelColor":"#e0823f","titleColor":"#e0823f","domainColor":"#e0823f","grid":false}},
      "color":{"datum":"T junction","type":"nominal"}}},
    {"data":{"name":"main"},"mark":{"type":"line","strokeWidth":2,"interpolate":"monotone"},
     "encoding":{
      "x":{"field":"t","type":"quantitative"},
      "y":{"field":"w","type":"quantitative","axis":{"orient":"right","title":"temperature  (°C)","titleAngle":270,"titleBaseline":"top","values":[40,50,60,70,80,90,100],"labelColor":"#e0823f","titleColor":"#e0823f","domainColor":"#e0823f","grid":false}},
      "color":{"datum":"T winding","type":"nominal"}}}
  ]}
 ]
},
{
 "bounds":"flush","spacing":181,
 "resolve":{"scale":{"color":"independent"},"legend":{"color":"independent"}},
 "hconcat":[
  {"width":340,"height":149,"title":"Winding temp vs current (colour = time)","data":{"name":"main"},
   "mark":{"type":"circle","size":12,"opacity":1},
   "encoding":{
    "x":{"field":"i","type":"quantitative","scale":{"domain":[0,500],"nice":false},"axis":{"values":[0,100,200,300,400,500],"title":"|Ibatt|  (A)"}},
    "y":{"field":"w","type":"quantitative","scale":{"domain":[82,92],"nice":false},"axis":{"values":[82,84,86,88,90,92],"title":"T  winding  (°C)"}},
    "color":{"field":"t","type":"quantitative",
     "scale":{"domain":[0,6.35,12.7,19.05,25.4,31.75,38.1,44.45,50.8,57.15,63.5],"range":["#352A87","#0F5CDD","#127DD8","#079CCF","#15B1B4","#59BD8C","#A5BE6B","#E1B952","#FCCE2E","#F5E61D","#F9FB0E"]},
     "legend":{"title":"time (s)","type":"gradient","direction":"vertical","gradientLength":150,"gradientThickness":17,"values":[0,10,20,30,40,50,60],"titleOrient":"right","titleAngle":270,"titleAnchor":"middle","titlePadding":3,"titleFontWeight":"normal","titleFontSize":11,"titleColor":"#404040","gradientStrokeColor":"#262626","gradientStrokeWidth":1,"labelFontSize":12,"labelColor":"#404040","offset":18}}
   }},
  {"width":339,"height":149,"title":"Inverter junction temp vs current","data":{"name":"main"},
   "mark":{"type":"circle","size":12,"opacity":1},
   "encoding":{
    "x":{"field":"i","type":"quantitative","scale":{"domain":[0,500],"nice":false},"axis":{"values":[0,100,200,300,400,500],"title":"|Ibatt|  (A)"}},
    "y":{"field":"j","type":"quantitative","scale":{"domain":[44,56],"nice":false},"axis":{"values":[44,46,48,50,52,54,56],"title":"T  junction  (°C)"}},
    "color":{"field":"t","type":"quantitative",
     "scale":{"domain":[0,6.35,12.7,19.05,25.4,31.75,38.1,44.45,50.8,57.15,63.5],"range":["#352A87","#0F5CDD","#127DD8","#079CCF","#15B1B4","#59BD8C","#A5BE6B","#E1B952","#FCCE2E","#F5E61D","#F9FB0E"]},
     "legend":{"title":"time (s)","type":"gradient","direction":"vertical","gradientLength":150,"gradientThickness":17,"values":[0,10,20,30,40,50,60],"titleOrient":"right","titleAngle":270,"titleAnchor":"middle","titlePadding":3,"titleFontWeight":"normal","titleFontSize":11,"titleColor":"#404040","gradientStrokeColor":"#262626","gradientStrokeWidth":1,"labelFontSize":12,"labelColor":"#404040","offset":18}}
   }}
 ]
},
{
 "bounds":"flush","spacing":124,
 "resolve":{"scale":{"color":"independent"},"legend":{"color":"independent"}},
 "hconcat":[
  {"width":396,"height":149,"title":"Heating rate vs current   (line = fit in I²)",
   "layer":[
    {"data":{"name":"main"},"mark":{"type":"circle","size":12,"opacity":1},
     "encoding":{
      "x":{"field":"i","type":"quantitative","scale":{"domain":[0,450],"nice":false},"axis":{"values":[0,50,100,150,200,250,300,350,400,450],"title":"|Ibatt|  (A)","labelOverlap":false}},
      "y":{"field":"d","type":"quantitative","scale":{"domain":[-2,2],"nice":false},"axis":{"values":[-2,-1,0,1,2],"title":"dTwind/dt  (°C/s)","labelOverlap":false}},
      "color":{"datum":"data","type":"nominal","scale":{"domain":["data","I² fit"],"range":["#D95319","#000000"]},
       "legend":{"orient":"top-left","offset":9,"title":null,"strokeColor":"#262626","fillColor":"white","padding":3,"labelFontSize":11.5,"labelColor":"#262626","rowPadding":0,"labelOffset":20,"symbolSize":144,
        "encoding":{"symbols":{
          "shape":{"value":{"expr":"datum.value === 'data' ? 'M2,0A0.5,0.5,0,1,1,1,0A0.5,0.5,0,1,1,2,0Z' : 'M-1,0H3.7'"}},
          "fill":{"value":{"expr":"datum.value === 'data' ? '#D95319' : 'transparent'"}},
          "stroke":{"value":{"expr":"datum.value === 'data' ? 'transparent' : '#000000'"}},
          "strokeWidth":{"value":2},
          "opacity":{"value":1}}}}}
     }},
    {"data":{"name":"fit"},"mark":{"type":"line","strokeWidth":2,"interpolate":"monotone"},
     "encoding":{
      "x":{"field":"i","type":"quantitative","axis":{"values":[0,50,100,150,200,250,300,350,400,450],"title":"|Ibatt|  (A)","labelOverlap":false}},
      "y":{"field":"d","type":"quantitative","axis":{"values":[-2,-1,0,1,2],"title":"dTwind/dt  (°C/s)","labelOverlap":false}},
      "color":{"datum":"I² fit","type":"nominal"}}}
   ]},
  {"width":396,"height":149,"title":"Per-motor current (TVC splits them apart)","data":{"name":"motor"},
   "transform":[{"fold":["FL","FR","RL","RR"],"as":["motor","a"]}],
   "mark":{"type":"line","strokeWidth":1.2},
   "encoding":{
    "x":{"field":"t","type":"quantitative","scale":{"domain":[0,70],"nice":false},"axis":{"values":[0,10,20,30,40,50,60,70],"title":"time (s)"}},
    "y":{"field":"a","type":"quantitative","scale":{"domain":[0,500],"nice":false},"axis":{"values":[0,100,200,300,400,500],"title":"|phase current| (A)"}},
    "color":{"field":"motor","type":"nominal","scale":{"domain":["FL","FR","RL","RR"],"range":["#0072BD","#D95319","#EDB120","#8B2BD8"]},
     "legend":{"orient":"top-right","offset":9,"title":null,"strokeColor":"#262626","fillColor":"white","padding":3,"labelFontSize":11.5,"labelColor":"#404040","symbolType":"M-1,0H4","symbolSize":100,"symbolStrokeWidth":2,"rowPadding":0,"labelOffset":18}}
   }}
 ]
}
]
}
